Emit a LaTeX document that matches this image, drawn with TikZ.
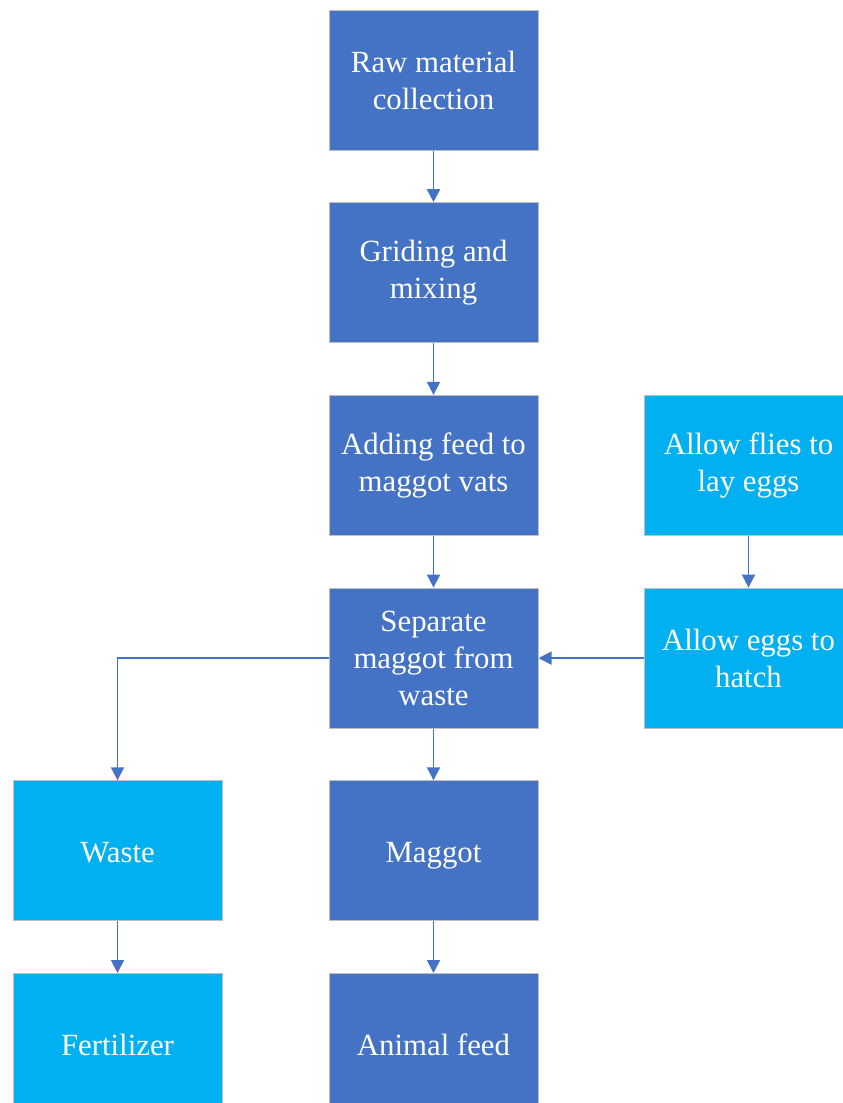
\documentclass[tikz,border=0pt]{standalone}
\usepackage{fontspec}
\setmainfont{LiberationSerif}[Extension=.ttf, UprightFont=*-Regular, BoldFont=*-Bold, ItalicFont=*-Italic, BoldItalicFont=*-BoldItalic]
\usetikzlibrary{positioning}
\usetikzlibrary{arrows.meta}
\definecolor{color-dark}{RGB}{68,114,196}
\definecolor{color-light}{RGB}{0,176,240}
\definecolor{color-edge}{RGB}{191,191,191}

\begin{document}
\begin{tikzpicture}[x=1pt, y=-1pt, node distance=51.7pt, >={Triangle[length=13pt,width=13pt]},
proc/.style={rectangle,draw=color-edge,line width=1pt,fill=color-dark,text=white,minimum width=209pt,minimum height=140pt,inner sep=0pt,align=center,font=\fontsize{30.8}{37}\selectfont},
proc2/.style={proc,fill=color-light},
single/.style={text height=27pt,text depth=3pt},
link/.style={->,draw=color-dark,line width=1.8pt}]
\clip (0,0) rectangle (843,1103);

% main column
\node [proc](raw) at (433.5,80) {Raw material\\collection};
\node [proc, below = of raw](grind) {Griding and\\mixing};
\node [proc, below = of grind](adding) {Adding feed to\\maggot vats};
\node [proc, below = of adding](sep) {Separate\\maggot from\\waste};
\node [proc, single, below = of sep](maggot) {Maggot};
\node [proc, single, below = of maggot](feed) {Animal feed};

% side columns
\node [proc2, right = 105pt of adding](flies) {Allow flies to\\lay eggs};
\node [proc2, below = of flies](hatch) {Allow eggs to\\hatch};
\node [proc2, single, left = 106pt of maggot](waste) {Waste};
\node [proc2, single, below = of waste](fert) {Fertilizer};

% arrows
\draw[link] (raw) -- (grind);
\draw[link] (grind) -- (adding);
\draw[link] (adding) -- (sep);
\draw[link] (sep) -- (maggot);
\draw[link] (maggot) -- (feed);
\draw[link] (flies) -- (hatch);
\draw[link] (hatch) -- (sep);
\draw[link] (sep.west) -| (waste.north);
\draw[link] (waste) -- (fert);

\end{tikzpicture}
\end{document}
